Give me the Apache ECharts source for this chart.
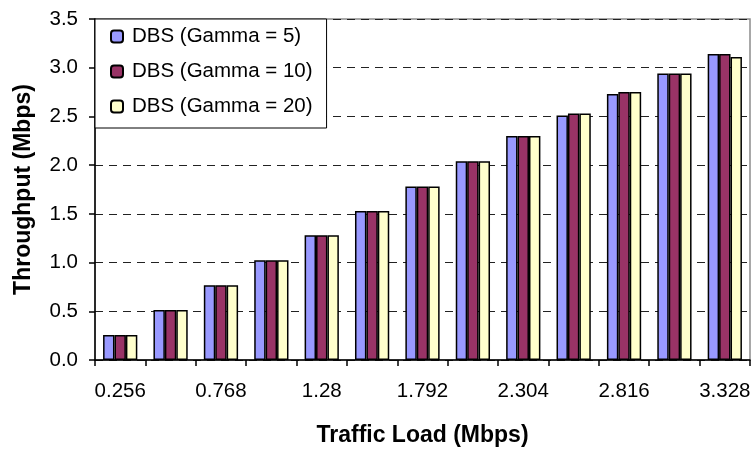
<!DOCTYPE html>
<html>
<head>
<meta charset="utf-8">
<script src="https://cdn.jsdelivr.net/npm/echarts@6/dist/echarts.min.js"></script>
<style>
  html, body { margin: 0; padding: 0; background: #fff; }
  #chart { width: 756px; height: 453px; }
</style>
</head>
<body>
<div id="chart"></div>
<script>
// Offered traffic load (Mbps) on the x axis
const loads = ['0.256', '0.512', '0.768', '1.024', '1.28', '1.536', '1.792',
               '2.048', '2.304', '2.56', '2.816', '3.072', '3.328'];

// Measured throughput (Mbps) for each gamma setting
const gamma5  = [0.256, 0.512, 0.768, 1.024, 1.28, 1.53, 1.78, 2.04, 2.30, 2.51, 2.73, 2.94, 3.14];
const gamma10 = [0.256, 0.512, 0.768, 1.024, 1.28, 1.53, 1.78, 2.04, 2.30, 2.53, 2.75, 2.94, 3.14];
const gamma20 = [0.256, 0.512, 0.768, 1.024, 1.28, 1.53, 1.78, 2.04, 2.30, 2.53, 2.75, 2.94, 3.11];

const seriesNames = ['DBS (Gamma = 5)', 'DBS (Gamma = 10)', 'DBS (Gamma = 20)'];
const seriesColors = ['#9999FF', '#993366', '#FFFFCC'];
const seriesData = [gamma5, gamma10, gamma20];

const FONT = "'Liberation Sans', Arial, sans-serif";

const chart = echarts.init(document.getElementById('chart'), null, { renderer: 'canvas' });

chart.setOption({
  animation: false,
  backgroundColor: '#ffffff',
  textStyle: { fontFamily: FONT, color: '#000' },
  grid: {
    left: 95, right: 6, top: 19, bottom: 93,
    show: true, borderColor: '#8c8c8c', borderWidth: 1.5,
    backgroundColor: 'transparent'
  },
  legend: {
    orient: 'vertical',
    left: 95, top: 19,
    padding: [7, 14, 11, 15],
    itemWidth: 12, itemHeight: 12,
    itemGap: 14,
    backgroundColor: '#ffffff',
    borderColor: '#000', borderWidth: 1,
    z: 10,
    textStyle: { fontFamily: FONT, fontSize: 20.5, color: '#000', lineHeight: 20, padding: [0, 0, 0, 4] },
    data: seriesNames
  },
  xAxis: {
    type: 'category',
    data: loads,
    name: 'Traffic Load (Mbps)',
    nameLocation: 'middle',
    nameGap: 64,
    nameTextStyle: { fontFamily: FONT, fontSize: 23, fontWeight: 'bold', color: '#000' },
    axisLine: { lineStyle: { color: '#000', width: 1.5 } },
    axisTick: { show: true, interval: 0, length: 6, lineStyle: { color: '#000', width: 1.5 } },
    axisLabel: { interval: 1, margin: 21, fontSize: 20.5, color: '#000', fontFamily: FONT },
    splitLine: { show: false }
  },
  yAxis: {
    type: 'value',
    min: 0, max: 3.5, interval: 0.5,
    name: 'Throughput (Mbps)',
    nameLocation: 'middle',
    nameGap: 60,
    nameTextStyle: { fontFamily: FONT, fontSize: 23, fontWeight: 'bold', color: '#000' },
    axisLine: { show: true, lineStyle: { color: '#000', width: 1.5 } },
    axisTick: { show: true, length: 6, lineStyle: { color: '#000', width: 1.5 } },
    axisLabel: {
      margin: 17, fontSize: 20.5, color: '#000', fontFamily: FONT,
      formatter: v => v.toFixed(1)
    },
    splitLine: { show: true, lineStyle: { color: '#222', width: 1, type: [8, 6] } }
  },
  series: seriesData.map((vals, i) => ({
    name: seriesNames[i],
    type: 'bar',
    data: vals,
    barGap: '0%',
    barCategoryGap: '32%',
    itemStyle: { color: seriesColors[i], borderColor: '#000', borderWidth: 1.5 }
  }))
});
</script>
</body>
</html>
